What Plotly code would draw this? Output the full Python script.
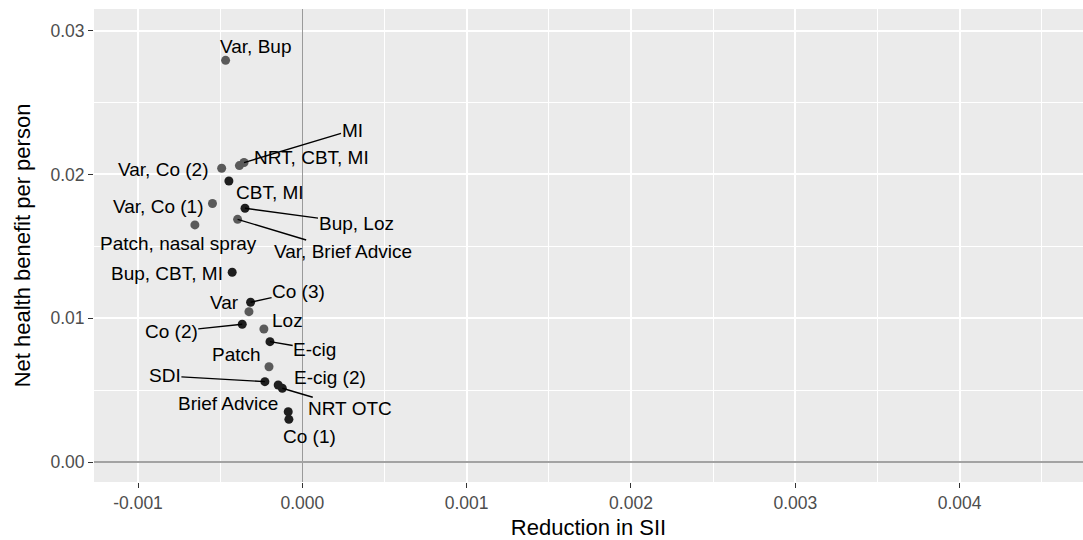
import plotly.graph_objects as go

# Interventions: reduction in slope index of inequality vs net health benefit
interventions = [
    "Var, Bup", "MI", "NRT, CBT, MI", "Var, Co (2)", "CBT, MI",
    "Var, Co (1)", "Bup, Loz", "Var, Brief Advice", "Patch, nasal spray",
    "Bup, CBT, MI", "Co (3)", "Var", "Co (2)", "Loz", "E-cig", "Patch",
    "SDI", "E-cig (2)", "NRT OTC", "Brief Advice", "Co (1)",
]
reduction_sii = [
    -0.000467, -0.000355, -0.000383, -0.000491, -0.000447,
    -0.000547, -0.000349, -0.000394, -0.000654,
    -0.000427, -0.000315, -0.000325, -0.000366, -0.000234, -0.000197, -0.000203,
    -0.000228, -0.000147, -0.000122, -0.000086, -0.000082,
]
net_health_benefit = [
    0.02794, 0.02083, 0.02062, 0.02043, 0.01955,
    0.01798, 0.01765, 0.01688, 0.01649,
    0.01320, 0.01111, 0.01046, 0.00958, 0.00925, 0.00837, 0.00663,
    0.00559, 0.00536, 0.00513, 0.00350, 0.00297,
]

# Repelled label placement: pixel offset (dx, dy-down) of the label centre and
# whether a leader segment joins label and point
label_layout = {
    "Var, Bup": (30, -14, False),
    "MI": (108, -32.5, True),
    "NRT, CBT, MI": (72, -8, False),
    "Var, Co (2)": (-59, 0.7, False),
    "CBT, MI": (41, 12, False),
    "Var, Co (1)": (-54.5, 2.5, False),
    "Bup, Loz": (111, 15, True),
    "Var, Brief Advice": (105, 31.7, True),
    "Patch, nasal spray": (-16, 19, False),
    "Bup, CBT, MI": (-65, 1, False),
    "Co (3)": (48, -10.6, True),
    "Var": (-24, -9, False),
    "Co (2)": (-71, 7.4, True),
    "Loz": (23.5, -9, False),
    "E-cig": (44.7, 7.6, True),
    "Patch": (-32, -12.7, False),
    "SDI": (-100, -5.7, True),
    "E-cig (2)": (52, -7.7, False),
    "NRT OTC": (67.7, 20, True),
    "Brief Advice": (-60, -8.4, False),
    "Co (1)": (21, 17.4, False),
}

# Points that sit on top of overlapping copies render darker
dark_points = {"CBT, MI", "Bup, Loz", "Bup, CBT, MI", "Co (3)", "Co (2)",
               "E-cig", "SDI", "NRT OTC", "Brief Advice", "Co (1)", "E-cig (2)"}
point_colors = ["#1e1e1e" if n in dark_points else "#5a5a5a" for n in interventions]

FONT = "Liberation Sans, Arial, Helvetica, sans-serif"

fig = go.Figure()
fig.add_trace(go.Scatter(
    x=reduction_sii, y=net_health_benefit, mode="markers",
    marker=dict(size=9, color=point_colors, line=dict(width=0)),
    text=interventions, hoverinfo="text", showlegend=False,
))

annotations = []
for name, xv, yv in zip(interventions, reduction_sii, net_health_benefit):
    dx, dy, seg = label_layout[name]
    common = dict(x=xv, y=yv, xref="x", yref="y", text=name,
                  font=dict(family=FONT, size=19, color="black"),
                  borderpad=0)
    if seg:
        annotations.append(dict(**common, showarrow=True, ax=dx, ay=dy,
                                axref="pixel", ayref="pixel", arrowhead=0,
                                arrowwidth=1.4, arrowcolor="black", standoff=0,
                                startstandoff=0))
    else:
        annotations.append(dict(**common, showarrow=False, xshift=dx, yshift=-dy,
                                xanchor="center", yanchor="middle"))

fig.update_layout(
    width=1083, height=540,
    margin=dict(l=94, r=0, t=9, b=58),
    paper_bgcolor="white", plot_bgcolor="#EBEBEB",
    font=dict(family=FONT),
    annotations=annotations,
    xaxis=dict(
        range=[-0.001268, 0.004751],
        tickmode="array",
        tickvals=[-0.001, 0.0, 0.001, 0.002, 0.003, 0.004],
        ticktext=["-0.001", "0.000", "0.001", "0.002", "0.003", "0.004"],
        showgrid=True, gridcolor="white", gridwidth=2,
        minor=dict(tickmode="array",
                   tickvals=[-0.0005, 0.0005, 0.0015, 0.0025, 0.0035, 0.0045],
                   showgrid=True, gridcolor="white", gridwidth=1, ticks=""),
        zeroline=True, zerolinecolor="#9a9a9a", zerolinewidth=1.2,
        ticks="outside", ticklen=5, tickwidth=1.3, tickcolor="#333333",
        tickfont=dict(family=FONT, size=17.5, color="#4d4d4d"),
        showline=False,
        title=dict(text="Reduction in SII", font=dict(family=FONT, size=22, color="black"),
                   standoff=8),
        automargin=False,
    ),
    yaxis=dict(
        range=[-0.00139, 0.03151],
        tickmode="array",
        tickvals=[0.0, 0.01, 0.02, 0.03],
        ticktext=["0.00", "0.01", "0.02", "0.03"],
        showgrid=True, gridcolor="white", gridwidth=2,
        minor=dict(tickmode="array", tickvals=[0.005, 0.015, 0.025],
                   showgrid=True, gridcolor="white", gridwidth=1, ticks=""),
        zeroline=True, zerolinecolor="#a3a3a3", zerolinewidth=2,
        ticks="outside", ticklen=5, tickwidth=1.3, tickcolor="#333333",
        tickfont=dict(family=FONT, size=17.5, color="#4d4d4d"),
        showline=False,
        title=dict(text="Net health benefit per person",
                   font=dict(family=FONT, size=22, color="black"), standoff=13),
        automargin=False,
    ),
)

fig.write_html("out.html")
